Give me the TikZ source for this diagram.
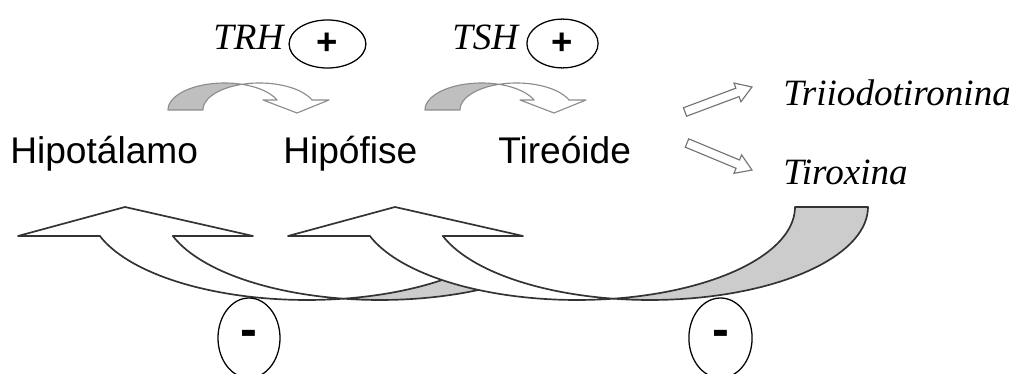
\documentclass[tikz,border=0pt]{standalone}
\usepackage{fontspec}
\setmainfont{Liberation Sans}
\newfontfamily\tnr{Liberation Serif}
\usetikzlibrary{shapes.geometric}
\begin{document}
\begin{tikzpicture}[x=0.025cm,y=-0.025cm,
  bigline/.style={draw=black!80, line width=1.2pt, line join=round},
  backfill/.style={fill=black!20},
  smallline/.style={draw=black!45, line width=0.8pt, line join=round},
  smallback/.style={fill=black!25},
  organ/.style={anchor=base west, inner sep=0, font=\fontsize{26.4}{30}\selectfont},
  hormone/.style={anchor=base west, inner sep=0, font=\tnr\itshape\fontsize{26.4}{30}\selectfont},
  signellipse/.style={draw, ellipse, line width=0.9pt, inner sep=0},
  plussign/.style={signellipse, font=\bfseries\fontsize{26}{28}\selectfont},
  minussign/.style={signellipse, minimum height=2cm, font=\bfseries\fontsize{36}{38}\selectfont},
  outarrow/.style={draw=black!55, line width=0.8pt, fill=white, line join=miter}
]
\useasboundingbox[fill=white] (0,0) rectangle (1009,374);

% ---- big arrow 1 (front face)
\filldraw[bigline, fill=white] (18,236) -- (125,207) -- (253,236) -- (172.9,236)
  -- plot[domain=161.8:99.64, samples=40] ({380+218*cos(\x)},{207+93*sin(\x)})
  -- plot[domain=80.36:161.8, samples=40] ({307+218*cos(\x)},{207+93*sin(\x)})
  -- cycle;
% ---- big arrow 1 (back face, partly hidden)
\begin{scope}
  \clip (300,340) -- (300,207)
    -- plot[domain=180:90, samples=40] ({577+218*cos(\x)},{207+93*sin(\x)})
    -- (577,340) -- cycle;
  \filldraw[bigline, backfill]
    plot[domain=99.64:0, samples=40] ({380+218*cos(\x)},{207+93*sin(\x)})
    -- plot[domain=0:80.36, samples=40] ({307+218*cos(\x)},{207+93*sin(\x)})
    -- cycle;
\end{scope}
% ---- big arrow 2 (front face)
\filldraw[bigline, fill=white] (288,236) -- (395,207) -- (523,236) -- (442.9,236)
  -- plot[domain=161.8:99.64, samples=40] ({650+218*cos(\x)},{207+93*sin(\x)})
  -- plot[domain=80.36:161.8, samples=40] ({577+218*cos(\x)},{207+93*sin(\x)})
  -- cycle;
% ---- big arrow 2 (back face)
\filldraw[bigline, backfill]
  plot[domain=99.64:0, samples=40] ({650+218*cos(\x)},{207+93*sin(\x)})
  -- plot[domain=0:80.36, samples=40] ({577+218*cos(\x)},{207+93*sin(\x)})
  -- cycle;

% ---- small curved arrows
\foreach \dx in {0,257}{
\begin{scope}[shift={(\dx,0)}]
  \filldraw[smallline, smallback]
    plot[domain=180:288, samples=30] ({224.5+56.5*cos(\x)},{110+27*sin(\x)})
    -- plot[domain=252:180, samples=30] ({259.5+56.5*cos(\x)},{110+27*sin(\x)})
    -- cycle;
  \filldraw[smallline, fill=white]
    plot[domain=288:338.3, samples=30] ({224.5+56.5*cos(\x)},{110+27*sin(\x)})
    -- (263,100) -- (297,113) -- (329,100) -- (312,100)
    -- plot[domain=338.3:252, samples=30] ({259.5+56.5*cos(\x)},{110+27*sin(\x)})
    -- cycle;
\end{scope}}

% ---- straight outline arrows
\begin{scope}[shift={(685,112)}, rotate=20.5]
  \draw[outarrow] (0,-4.5) -- (56,-4.5) -- (56,-10) -- (71.5,0) -- (56,10) -- (56,4.5) -- (0,4.5) -- cycle;
\end{scope}
\begin{scope}[shift={(687,143)}, rotate=-22.6]
  \draw[outarrow] (0,-4.5) -- (55,-4.5) -- (55,-10) -- (70.4,0) -- (55,10) -- (55,4.5) -- (0,4.5) -- cycle;
\end{scope}

% ---- texts
\node[organ] (hipo) at (10,163) {Hipotálamo};
\node[organ] (hipof) at (283,163) {Hipófise};
\node[organ] (tire) at (498,163) {Tireóide};
\node[hormone] (trh) at (213,50) {TRH};
\node[hormone] (tsh) at (452,50) {TSH};
\node[hormone] (tri) at (783,106) {Triiodotironina};
\node[hormone] (tirox) at (783,185) {Tiroxina};

% ---- signs
\node[plussign, minimum width=1.92cm, minimum height=1.2cm] (p1) at (327.5,44) {+};
\node[plussign, minimum width=1.78cm, minimum height=1.22cm] (p2) at (562.5,43.5) {+};
\node[minussign, minimum width=1.55cm] (m1) at (249,338) {-};
\node[minussign, minimum width=1.58cm] (m2) at (720.5,338) {-};
\end{tikzpicture}
\end{document}
